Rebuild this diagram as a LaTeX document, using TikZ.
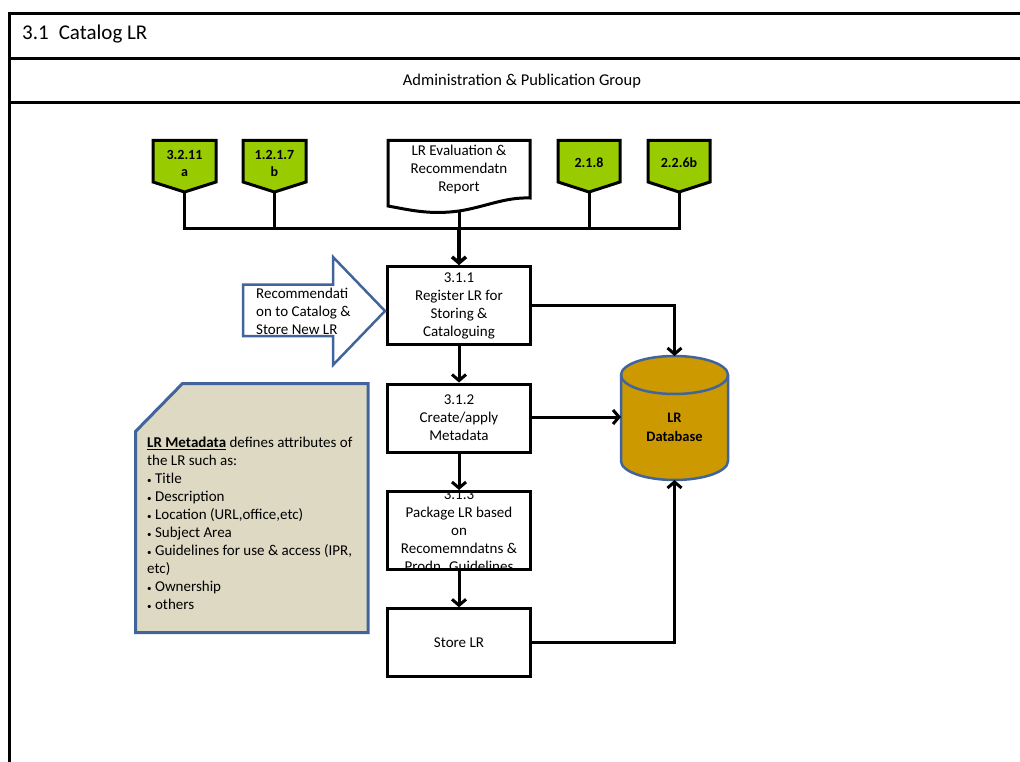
\documentclass[tikz,border=0pt]{standalone}
\usepackage{fontspec}
\setmainfont{Carlito}
\usetikzlibrary{arrows.meta}
\definecolor{lrgreen}{HTML}{99CC00}
\definecolor{lrblue}{HTML}{41659B}
\definecolor{lrgold}{HTML}{CC9900}
\definecolor{lrnote}{HTML}{DDD9C3}
\begin{document}
\begin{tikzpicture}[x=1pt,y=-1pt,
  frameline/.style={line width=3pt},
  txt/.style={font=\fontsize{15}{18}\selectfont, align=center, inner sep=0pt},
  procbox/.style={draw, line width=3pt, minimum width=143pt, inner sep=0pt, align=center, font=\fontsize{15}{18}\selectfont},
  pent/.style={draw, line width=3pt, fill=lrgreen, line join=miter},
  pentlabel/.style={font=\bfseries\fontsize{14}{17}\selectfont, align=center, inner sep=0pt},
  conn/.style={line width=3pt},
  arr/.style={line width=3pt, -{Straight Barb[length=6pt,width=14pt]}},
  bluedraw/.style={draw=lrblue, line width=2.5pt, line join=miter}
]
\useasboundingbox (0,0) rectangle (1020,762);
% frame
\draw[frameline] (9,770) -- (9,14) -- (1030,14);
\draw[frameline] (9,59) -- (1030,59);
\draw[frameline] (9,103) -- (1030,103);
\node[anchor=west, font=\fontsize{21}{24}\selectfont, inner sep=0pt] (title) at (22,34) {3.1\hspace{10pt}Catalog LR};
\node[font=\fontsize{16.5}{20}\selectfont, inner sep=0pt] (group) at (522,81) {Administration \& Publication Group};

% green off-page connectors
\draw[pent] (153,140.5) -- (216,140.5) -- (216,182) -- (184.5,192) -- (153,182) -- cycle;
\node[pentlabel] (g1) at (184.5,163.5) {3.2.11\\a};
\coordinate (g1t) at (184.5,192);
\draw[pent] (243,140.5) -- (306,140.5) -- (306,182) -- (274.5,192) -- (243,182) -- cycle;
\node[pentlabel] (g2) at (274.5,163.5) {1.2.1.7\\b};
\coordinate (g2t) at (274.5,192);
\draw[pent] (558,140.5) -- (620,140.5) -- (620,182) -- (589,192) -- (558,182) -- cycle;
\node[pentlabel] (g3) at (589,163) {2.1.8};
\coordinate (g3t) at (589,192);
\draw[pent] (648,140.5) -- (710,140.5) -- (710,182) -- (679,192) -- (648,182) -- cycle;
\node[pentlabel] (g4) at (679,163) {2.2.6b};
\coordinate (g4t) at (679,192);

% document
\draw[line width=3pt, fill=white, line join=miter] (388,140.5) -- (530,140.5) -- (530,198)
  .. controls (505,197) and (485,207) .. (459,211)
  .. controls (430,215) and (410,210) .. (388,206) -- cycle;
\node[txt] (doc) at (459,170) {LR Evaluation \&\\Recommendatn\\Report};
\coordinate (docb) at (459,211);
\coordinate (bus) at (459,229);

% process boxes
\node[procbox, minimum height=78pt] (b311) at (459,305.7) {3.1.1\\Register LR for\\Storing \&\\Cataloguing};
\node[procbox, minimum height=68pt] (b312) at (459,418) {3.1.2\\Create/apply\\Metadata};
\begin{scope}
  \clip (387,491.5) rectangle (531,569.5);
  \node[txt] (t313) at (459,531) {3.1.3\\Package LR based\\on\\Recomemndatns \&\\Prodn. Guidelines};
\end{scope}
\node[procbox, minimum height=78pt] (b313) at (459,530.5) {};
\node[procbox, minimum height=68pt] (store) at (459,642.8) {Store LR};

% block arrow
\draw[bluedraw, fill=white] (243,284.5) -- (333,284.5) -- (333,257) -- (385,311) -- (333,365) -- (333,336) -- (243,336) -- cycle;
\node[txt, align=left, anchor=west] (rec) at (256,311) {Recommendati\\on to Catalog \&\\Store New LR};

% database cylinder
\path[bluedraw, fill=lrgold] (621,375) -- (621,461)
  arc[start angle=180, end angle=360, x radius=53.5pt, y radius=19pt]
  -- (728,375)
  arc[start angle=0, end angle=180, x radius=53.5pt, y radius=19pt] -- cycle;
\draw[draw=lrblue, line width=2.5pt] (621,375) arc[start angle=180, end angle=360, x radius=53.5pt, y radius=19pt];
\node[font=\bfseries\fontsize{14.5}{19}\selectfont, align=center, inner sep=0pt] (db) at (674.5,427) {LR\\Database};
\coordinate (dbtop) at (674.5,356);
\coordinate (dbleft) at (621,417);
\coordinate (dbbot) at (674.5,480);

% note
\draw[bluedraw, line width=3pt, fill=lrnote] (182.5,383.5) -- (368,383.5) -- (368,632.5) -- (135.5,632.5) -- (135.5,431.5) -- cycle;
\node[anchor=north west, align=left, inner sep=0pt, font=\fontsize{15}{18}\selectfont] (note) at (147,437)
  {\textbf{\underline{LR Metadata}} defines attributes of\\the LR such as:\\{\small•} Title\\{\small•} Description\\{\small•} Location (URL,office,etc)\\{\small•} Subject Area\\{\small•} Guidelines for use \& access (IPR,\\etc)\\{\small•} Ownership\\{\small•} others};

% connectors
\draw[conn] (g1t) -- (g1t |- bus) -- (g4t |- bus) -- (g4t);
\draw[conn] (g2t) -- (g2t |- bus);
\draw[conn] (g3t) -- (g3t |- bus);
\draw[conn] (docb) -- (bus);
\draw[arr, line width=3.5pt] (bus) -- (b311.north);
\draw[arr] (b311.south) -- (b312.north);
\draw[arr] (b312.south) -- (b313.north);
\draw[arr] (b313.south) -- (store.north);
\draw[arr] (b311.east) -| (dbtop);
\draw[arr] (b312.east |- dbleft) -- (dbleft);
\draw[arr] (store.east) -| (dbbot);
\end{tikzpicture}
\end{document}
